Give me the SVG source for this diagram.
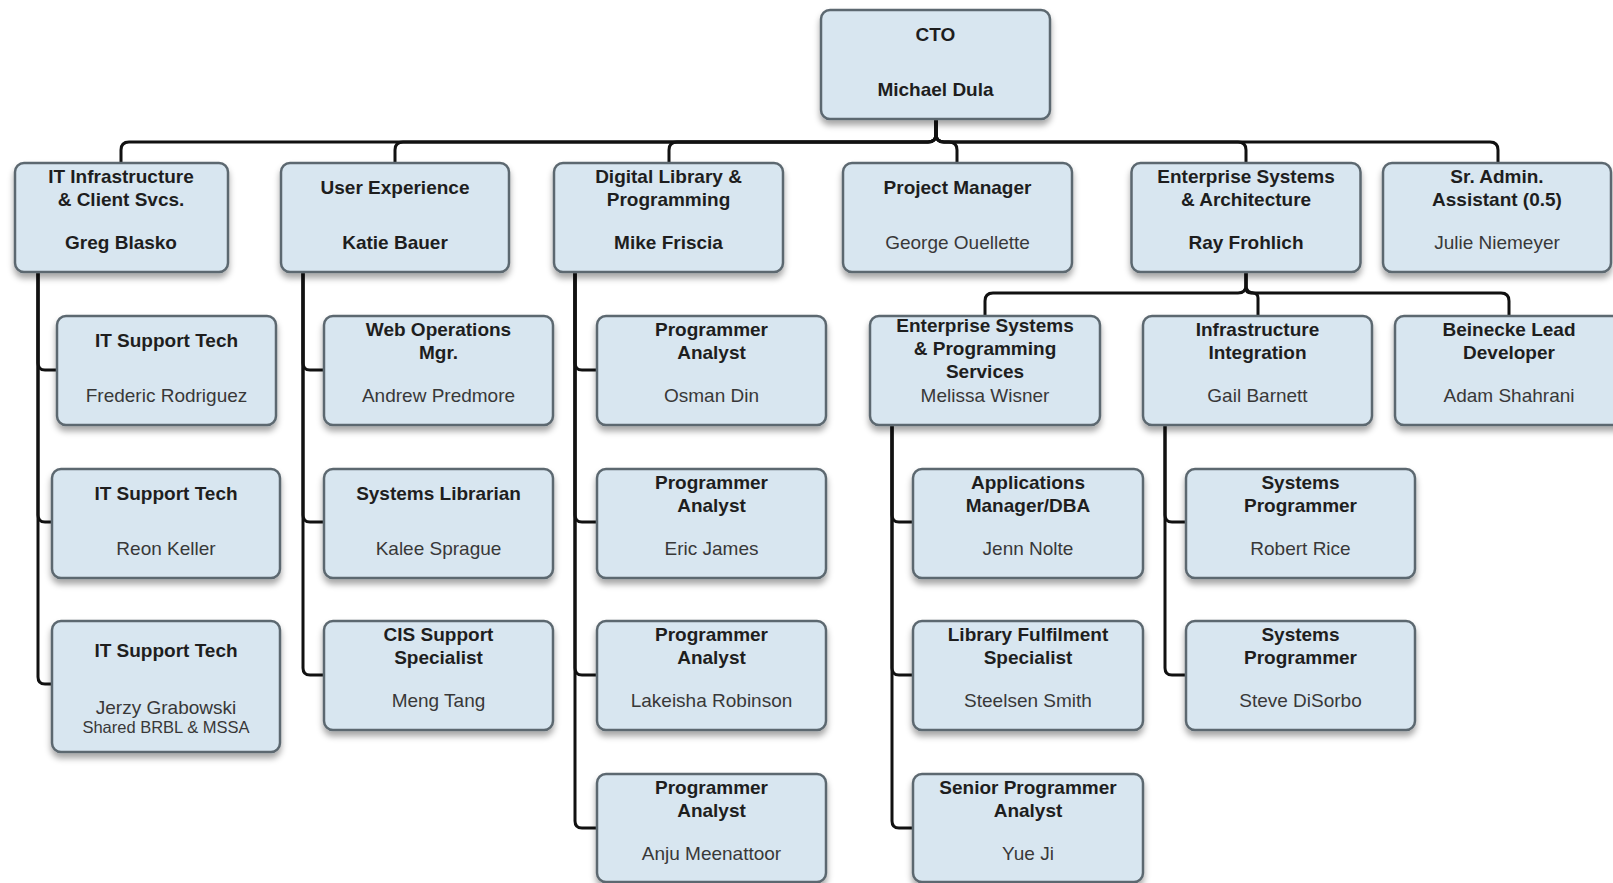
<svg xmlns="http://www.w3.org/2000/svg" width="1613" height="883" viewBox="0 0 1613 883">
<defs>
<filter id="sh" x="-10%" y="-10%" width="125%" height="140%">
<feDropShadow dx="0" dy="5" stdDeviation="3" flood-color="#000" flood-opacity="0.35"/>
</filter>
<style>
.box{fill:#d8e6f0;stroke:#5c6870;stroke-width:2.5;filter:url(#sh)}
.c{fill:none;stroke:#111;stroke-width:3}
text{font-family:"Liberation Sans",Arial,sans-serif;font-size:19px;text-anchor:middle}
.t{font-weight:bold;fill:#1e1e1e}
.n{fill:#383838}
.s{fill:#383838;font-size:16.5px}
</style>
</defs>
<rect width="1613" height="883" fill="#fff"/>
<g id="connectors">
<path class="c" d="M936 119 V134 Q936 142 928 142 H129 Q121 142 121 150 V163"/>
<path class="c" d="M936 119 V134 Q936 142 928 142 H403 Q395 142 395 150 V163"/>
<path class="c" d="M936 119 V134 Q936 142 928 142 H677 Q669 142 669 150 V163"/>
<path class="c" d="M936 119 V134 Q936 142 944 142 H949 Q957 142 957 150 V163"/>
<path class="c" d="M936 119 V134 Q936 142 944 142 H1238 Q1246 142 1246 150 V163"/>
<path class="c" d="M936 119 V134 Q936 142 944 142 H1490 Q1498 142 1498 150 V163"/>
<path class="c" d="M38 272 V363 Q38 370 45 370 H57"/>
<path class="c" d="M38 272 V515 Q38 522 45 522 H52"/>
<path class="c" d="M38 272 V677 Q38 684 45 684 H52"/>
<path class="c" d="M303 272 V363 Q303 370 310 370 H324"/>
<path class="c" d="M303 272 V515 Q303 522 310 522 H324"/>
<path class="c" d="M303 272 V668 Q303 675 310 675 H324"/>
<path class="c" d="M575 272 V363 Q575 370 582 370 H597"/>
<path class="c" d="M575 272 V515 Q575 522 582 522 H597"/>
<path class="c" d="M575 272 V668 Q575 675 582 675 H597"/>
<path class="c" d="M575 272 V821 Q575 828 582 828 H597"/>
<path class="c" d="M1246 272 V285 Q1246 293 1238 293 H993 Q985 293 985 301 V316"/>
<path class="c" d="M1246 272 V288 Q1246 293 1251 293 H1253 Q1258 293 1258 298 V316"/>
<path class="c" d="M1246 272 V285 Q1246 293 1254 293 H1501 Q1509 293 1509 301 V316"/>
<path class="c" d="M892 425 V515 Q892 522 899 522 H913"/>
<path class="c" d="M892 425 V668 Q892 675 899 675 H913"/>
<path class="c" d="M892 425 V821 Q892 828 899 828 H913"/>
<path class="c" d="M1165 425 V515 Q1165 522 1172 522 H1186"/>
<path class="c" d="M1165 425 V668 Q1165 675 1172 675 H1186"/>
</g>
<g id="cto"><rect class="box" x="821" y="10" width="229" height="109" rx="9"/><text class="t" x="935.5" y="41">CTO</text><text class="t" x="935.5" y="96">Michael Dula</text></g>
<g id="itinfra"><rect class="box" x="15" y="163" width="213" height="109" rx="9"/><text class="t" x="121" y="183">IT Infrastructure</text><text class="t" x="121" y="206">&amp; Client Svcs.</text><text class="t" x="121" y="249">Greg Blasko</text></g>
<g id="ux"><rect class="box" x="281" y="163" width="228" height="109" rx="9"/><text class="t" x="395" y="194">User Experience</text><text class="t" x="395" y="249">Katie Bauer</text></g>
<g id="diglib"><rect class="box" x="554" y="163" width="229" height="109" rx="9"/><text class="t" x="668.5" y="183">Digital Library &amp;</text><text class="t" x="668.5" y="206">Programming</text><text class="t" x="668.5" y="249">Mike Friscia</text></g>
<g id="pm"><rect class="box" x="843" y="163" width="229" height="109" rx="9"/><text class="t" x="957.5" y="194">Project Manager</text><text class="n" x="957.5" y="249">George Ouellette</text></g>
<g id="entarch"><rect class="box" x="1131.5" y="163" width="229" height="109" rx="9"/><text class="t" x="1246" y="183">Enterprise Systems</text><text class="t" x="1246" y="206">&amp; Architecture</text><text class="t" x="1246" y="249">Ray Frohlich</text></g>
<g id="sradmin"><rect class="box" x="1383" y="163" width="228" height="109" rx="9"/><text class="t" x="1497" y="183">Sr. Admin.</text><text class="t" x="1497" y="206">Assistant (0.5)</text><text class="n" x="1497" y="249">Julie Niemeyer</text></g>
<g id="fred"><rect class="box" x="57" y="316" width="219" height="109" rx="9"/><text class="t" x="166.5" y="347">IT Support Tech</text><text class="n" x="166.5" y="402">Frederic Rodriguez</text></g>
<g id="webops"><rect class="box" x="324" y="316" width="229" height="109" rx="9"/><text class="t" x="438.5" y="335.5">Web Operations</text><text class="t" x="438.5" y="359">Mgr.</text><text class="n" x="438.5" y="402">Andrew Predmore</text></g>
<g id="osman"><rect class="box" x="597" y="316" width="229" height="109" rx="9"/><text class="t" x="711.5" y="335.5">Programmer</text><text class="t" x="711.5" y="359">Analyst</text><text class="n" x="711.5" y="402">Osman Din</text></g>
<g id="entsys"><rect class="box" x="870" y="316" width="230" height="109" rx="9"/><text class="t" x="985" y="332">Enterprise Systems</text><text class="t" x="985" y="355">&amp; Programming</text><text class="t" x="985" y="378">Services</text><text class="n" x="985" y="402">Melissa Wisner</text></g>
<g id="infint"><rect class="box" x="1143" y="316" width="229" height="109" rx="9"/><text class="t" x="1257.5" y="335.5">Infrastructure</text><text class="t" x="1257.5" y="359">Integration</text><text class="n" x="1257.5" y="402">Gail Barnett</text></g>
<g id="beinecke"><rect class="box" x="1395" y="316" width="229" height="109" rx="9"/><text class="t" x="1509" y="335.5">Beinecke Lead</text><text class="t" x="1509" y="359">Developer</text><text class="n" x="1509" y="402">Adam Shahrani</text></g>
<g id="reon"><rect class="box" x="52" y="469" width="228" height="109" rx="9"/><text class="t" x="166" y="500">IT Support Tech</text><text class="n" x="166" y="555">Reon Keller</text></g>
<g id="syslib"><rect class="box" x="324" y="469" width="229" height="109" rx="9"/><text class="t" x="438.5" y="500">Systems Librarian</text><text class="n" x="438.5" y="555">Kalee Sprague</text></g>
<g id="eric"><rect class="box" x="597" y="469" width="229" height="109" rx="9"/><text class="t" x="711.5" y="488.5">Programmer</text><text class="t" x="711.5" y="512">Analyst</text><text class="n" x="711.5" y="555">Eric James</text></g>
<g id="apps"><rect class="box" x="913" y="469" width="230" height="109" rx="9"/><text class="t" x="1028" y="488.5">Applications</text><text class="t" x="1028" y="512">Manager/DBA</text><text class="n" x="1028" y="555">Jenn Nolte</text></g>
<g id="robert"><rect class="box" x="1186" y="469" width="229" height="109" rx="9"/><text class="t" x="1300.5" y="488.5">Systems</text><text class="t" x="1300.5" y="512">Programmer</text><text class="n" x="1300.5" y="555">Robert Rice</text></g>
<g id="jerzy"><rect class="box" x="52" y="621" width="228" height="131" rx="9"/><text class="t" x="166" y="657">IT Support Tech</text><text class="n" x="166" y="714">Jerzy Grabowski</text><text class="s" x="166" y="733">Shared BRBL &amp; MSSA</text></g>
<g id="cis"><rect class="box" x="324" y="621" width="229" height="109" rx="9"/><text class="t" x="438.5" y="640.5">CIS Support</text><text class="t" x="438.5" y="664">Specialist</text><text class="n" x="438.5" y="707">Meng Tang</text></g>
<g id="lakeisha"><rect class="box" x="597" y="621" width="229" height="109" rx="9"/><text class="t" x="711.5" y="640.5">Programmer</text><text class="t" x="711.5" y="664">Analyst</text><text class="n" x="711.5" y="707">Lakeisha Robinson</text></g>
<g id="library"><rect class="box" x="913" y="621" width="230" height="109" rx="9"/><text class="t" x="1028" y="640.5">Library Fulfilment</text><text class="t" x="1028" y="664">Specialist</text><text class="n" x="1028" y="707">Steelsen Smith</text></g>
<g id="steve"><rect class="box" x="1186" y="621" width="229" height="109" rx="9"/><text class="t" x="1300.5" y="640.5">Systems</text><text class="t" x="1300.5" y="664">Programmer</text><text class="n" x="1300.5" y="707">Steve DiSorbo</text></g>
<g id="anju"><rect class="box" x="597" y="774" width="229" height="108" rx="9"/><text class="t" x="711.5" y="793.5">Programmer</text><text class="t" x="711.5" y="817">Analyst</text><text class="n" x="711.5" y="860">Anju Meenattoor</text></g>
<g id="senior"><rect class="box" x="913" y="774" width="230" height="108" rx="9"/><text class="t" x="1028" y="793.5">Senior Programmer</text><text class="t" x="1028" y="817">Analyst</text><text class="n" x="1028" y="860">Yue Ji</text></g>
</svg>
